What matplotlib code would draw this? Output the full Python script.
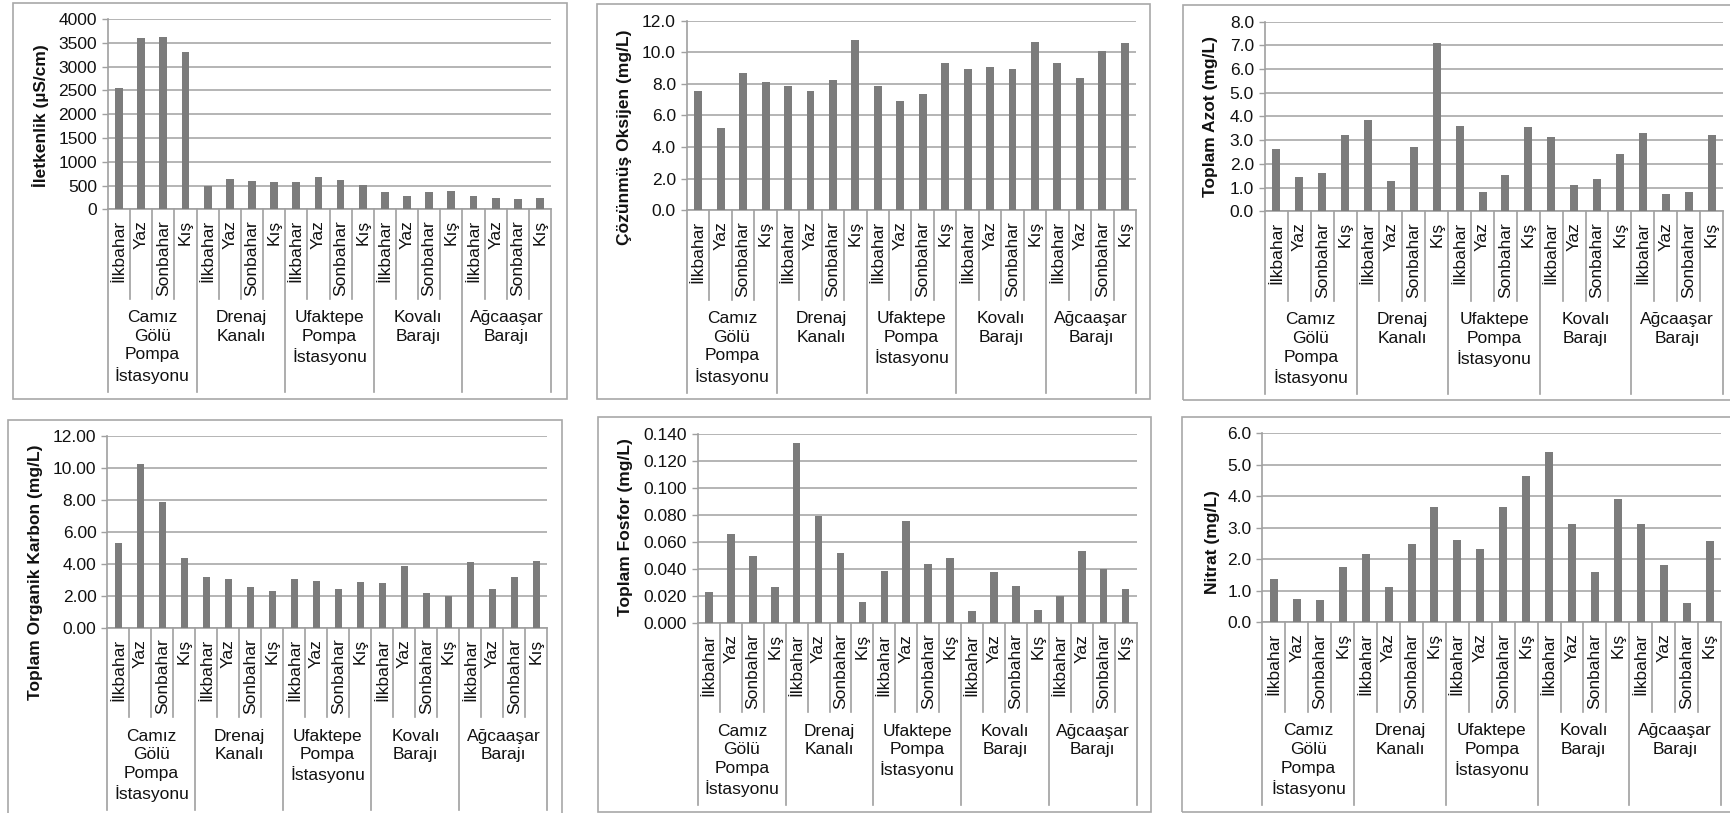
import matplotlib
matplotlib.use("Agg")
import matplotlib.pyplot as plt
from matplotlib.patches import Rectangle
from matplotlib.transforms import blended_transform_factory

plt.rcParams['font.family'] = ['Liberation Sans', 'DejaVu Sans']

W, H = 1731, 813

# categories
seasons = ["İlkbahar", "Yaz", "Sonbahar", "Kış"]
stations = ["Camız\nGölü\nPompa\nİstasyonu", "Drenaj\nKanalı", "Ufaktepe\nPompa\nİstasyonu",
            "Kovalı\nBarajı", "Ağcaaşar\nBarajı"]

# values (station by station, İlkbahar/Yaz/Sonbahar/Kış)
iletkenlik = [2543, 3594, 3615, 3306, 483, 630, 595, 574, 574, 672, 609, 511,
              371, 287, 371, 385, 287, 245, 224, 245]
oksijen = [7.55, 5.23, 8.69, 8.14, 7.89, 7.55, 8.27, 10.76, 7.89, 6.94, 7.36, 9.30,
           8.94, 9.05, 8.94, 10.63, 9.30, 8.40, 10.08, 10.57]
azot = [2.63, 1.46, 1.63, 3.21, 3.85, 1.27, 2.71, 7.09, 3.61, 0.82, 1.52, 3.56,
        3.12, 1.10, 1.35, 2.40, 3.29, 0.75, 0.82, 3.21]
karbon = [5.30, 10.25, 7.89, 4.34, 3.15, 3.07, 2.55, 2.30, 3.03, 2.90, 2.42, 2.84,
          2.78, 3.88, 2.17, 2.00, 4.11, 2.42, 3.15, 4.18]
fosfor = [0.0228, 0.0655, 0.0492, 0.0265, 0.133, 0.0791, 0.0519, 0.0151, 0.0386, 0.0757,
          0.0435, 0.0477, 0.0087, 0.0378, 0.0272, 0.0094, 0.0200, 0.0534, 0.0396, 0.0250]
nitrat = [1.39, 0.75, 0.70, 1.77, 2.18, 1.12, 2.49, 3.65, 2.61, 2.34, 3.65, 4.65,
          5.41, 3.12, 1.61, 3.93, 3.12, 1.82, 0.61, 2.58]

# panel layout in pixels: box, plot area (left, right, top, zero line), y label centre
panels = [
    dict(vals=iletkenlik, ylabel="İletkenlik (µS/cm)", ymax=4000, step=500, fmt="{:.0f}",
         box=(13, 3.5, 567, 399), plot=(108, 551, 19, 209.3), lab=(40.5, 116)),
    dict(vals=oksijen, ylabel="Çözünmüş Oksijen (mg/L)", ymax=12, step=2, fmt="{:.1f}",
         box=(597, 4.5, 1150, 399), plot=(687, 1136, 20.7, 210.3), lab=(624.5, 137)),
    dict(vals=azot, ylabel="Toplam Azot (mg/L)", ymax=8, step=1, fmt="{:.1f}",
         box=(1183.5, 5, 1740, 400), plot=(1265, 1723, 21.7, 211.3), lab=(1211, 116)),
    dict(vals=karbon, ylabel="Toplam Organik Karbon (mg/L)", ymax=12, step=2, fmt="{:.2f}",
         box=(8, 420, 561.5, 820), plot=(107.5, 547.5, 436, 627.7), lab=(35.5, 572.5)),
    dict(vals=fosfor, ylabel="Toplam Fosfor (mg/L)", ymax=0.14, step=0.02, fmt="{:.3f}",
         box=(598, 417.3, 1151, 811.5), plot=(698, 1136.5, 434, 622.7), lab=(625.5, 527.5)),
    dict(vals=nitrat, ylabel="Nitrat (mg/L)", ymax=6, step=1, fmt="{:.1f}",
         box=(1182, 417.3, 1740, 812), plot=(1262.5, 1721, 433.3, 622.3), lab=(1213, 542.5)),
]

bar_col = "#7c7c7c"
grid_col = "#a8a8a8"
line_col = "#a0a0a0"
txt_col = "#111111"
fs = 12.5

fig = plt.figure(figsize=(W / 100, H / 100), dpi=100)

for p in panels:
    bx0, by0, bx1, by1 = p["box"]
    fig.patches.append(Rectangle((bx0 / W, 1 - by1 / H), (bx1 - bx0) / W, (by1 - by0) / H,
                                 transform=fig.transFigure, fill=False,
                                 edgecolor=grid_col, linewidth=1.2))

    l, r, top, zero = p["plot"]
    hpx = zero - top
    ax = fig.add_axes([l / W, 1 - zero / H, (r - l) / W, hpx / H])
    xs = list(range(len(p["vals"])))
    ax.bar(xs, p["vals"], width=0.35, color=bar_col, zorder=3)
    ax.set_xlim(-0.5, len(xs) - 0.5)
    ax.set_ylim(0, p["ymax"])

    n = int(round(p["ymax"] / p["step"]))
    ticks = [i * p["step"] for i in range(n + 1)]
    ax.set_yticks(ticks)
    ax.set_yticklabels([p["fmt"].format(t) for t in ticks], fontsize=fs, color=txt_col)
    ax.tick_params(axis="y", length=4, width=1, color=line_col, pad=4)
    ax.set_xticks([])
    ax.grid(axis="y", color=grid_col, linewidth=1.2, zorder=0)
    for s in ["top", "right"]:
        ax.spines[s].set_visible(False)
    for s in ["left", "bottom"]:
        ax.spines[s].set_color(line_col)
        ax.spines[s].set_linewidth(1.2)

    tr = blended_transform_factory(ax.transData, ax.transAxes)

    # separators below the axis
    for k in range(len(xs) + 1):
        depth = 182.5 if k % 4 == 0 else 89.5
        ax.plot([k - 0.5, k - 0.5], [0, -depth / hpx], transform=tr, color=line_col,
                linewidth=1.2, clip_on=False)

    # season labels
    for i in xs:
        ax.text(i, -11 / hpx, seasons[i % 4], transform=tr, rotation=90, ha="center",
                va="top", fontsize=fs, color=txt_col)

    # station labels
    for g, name in enumerate(stations):
        ax.text(4 * g + 1.5, -101 / hpx, name, transform=tr, ha="center", va="top",
                fontsize=fs, color=txt_col, linespacing=1.3)

    lx, ly = p["lab"]
    fig.text(lx / W, 1 - ly / H, p["ylabel"], rotation=90, ha="center", va="center",
             fontsize=fs, fontweight="bold", color=txt_col)

fig.savefig("out.png", dpi=100, facecolor="white")
